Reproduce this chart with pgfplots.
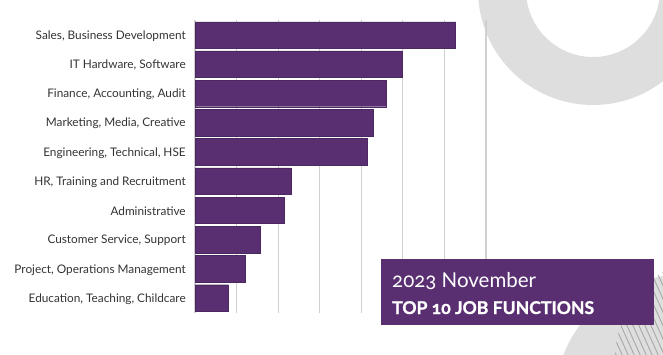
\documentclass[border=0pt]{standalone}
\usepackage{fontspec}
\setmainfont{Lato}
\newfontfamily\titlefont[Numbers=OldStyle]{Lato}
\newfontfamily\heavyfont[Numbers=OldStyle, BoldFeatures={FakeBold=1.2}]{Lato}
\usepackage{pgfplots}
\pgfplotsset{compat=1.18}
\definecolor{barpurple}{HTML}{592F72}
\definecolor{ringgray}{HTML}{DEDEDE}
\definecolor{gridgray}{HTML}{D0D0D0}
\definecolor{stripegray}{HTML}{A8A8A8}
\definecolor{labelgray}{HTML}{333333}
\begin{document}
\begin{tikzpicture}[x=1pt,y=1pt]
\useasboundingbox (0,0) rectangle (663,354);
% decorative rings
\fill[ringgray,even odd rule] (593,364) circle (115) (593,364) circle (67);
\fill[ringgray] (680,-46) circle (125);
\begin{scope}
\clip (720,-6) circle (105);
\foreach \i in {0,...,22} {
  \draw[stripegray, line width=0.9pt] (612+\i*6,-5) -- ++(-45,100);
}
\end{scope}
\begin{axis}[
  at={(195pt,41.4pt)}, anchor=south west,
  scale only axis, width=291pt, height=292.2pt,
  xmin=0, xmax=7, ymin=0.5, ymax=10.5, y dir=reverse,
  xbar, bar width=26.5pt, bar shift=0pt,
  xtick={0,...,7}, xticklabels={},
  xmajorgrids, grid style={gridgray, line width=1.1pt},
  axis line style={draw=none}, tick style={draw=none},
  ytick={1,...,10},
  yticklabels={{Sales, Business Development}, {IT Hardware, Software}, {Finance, Accounting, Audit}, {Marketing, Media, Creative}, {Engineering, Technical, HSE}, {HR, Training and Recruitment}, {Administrative}, {Customer Service, Support}, {Project, Operations Management}, {Education, Teaching, Childcare}},
  yticklabel style={font=\fontsize{11.8}{14}\selectfont, text=labelgray, xshift=-1.5pt, yshift=-1pt},
]
\addplot[fill=barpurple, draw=barpurple!85!black, line width=0.4pt] coordinates {
(6.27,1) (4.99,2) (4.60,3) (4.29,4) (4.14,5) (2.31,6) (2.14,7) (1.57,8) (1.20,9) (0.80,10)};
\end{axis}
% title box
\fill[barpurple] (381,29) rectangle (654,95);
\node[anchor=base west, inner sep=0, text=white, font=\titlefont\fontsize{20.5}{22}\selectfont] at (392,67) {2023 November};
\node[anchor=base west, inner sep=0, text=white, font=\heavyfont\bfseries\fontsize{17.6}{20}\selectfont] at (392,40) {TOP 10 JOB FUNCTIONS};
\end{tikzpicture}
\end{document}
